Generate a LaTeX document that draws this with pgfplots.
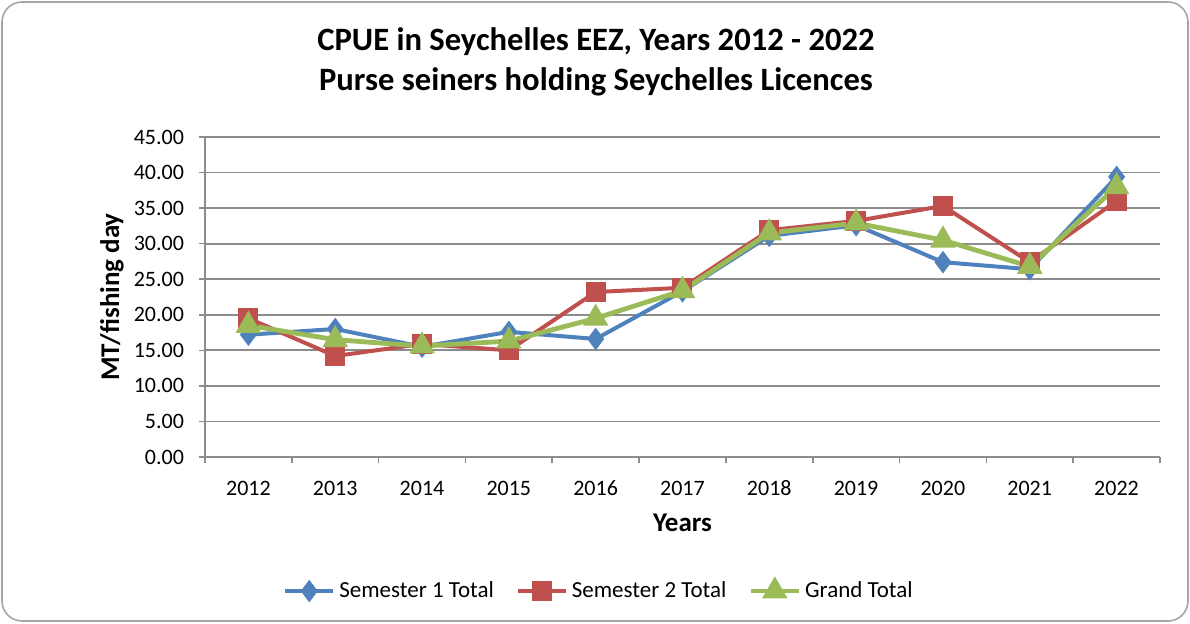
\documentclass[border=0pt]{standalone}
\usepackage{pgfplots}
\pgfplotsset{compat=1.18}
\usepackage{fontspec}
\setmainfont{Carlito}
\definecolor{sone}{HTML}{4F81BD}
\definecolor{stwo}{HTML}{C0504D}
\definecolor{gtot}{HTML}{9BBB59}
\definecolor{gridc}{HTML}{8C8C8C}

\begin{document}
\begin{tikzpicture}[x=1pt,y=1pt]
\useasboundingbox (-102.5,-83) rectangle (492.5,228.5);
\draw[gray!70, line width=0.8pt, rounded corners=10pt] (-101.5,-82) rectangle (491.5,227.5);
\node[font=\fontsize{16.3}{20}\selectfont\bfseries, align=center] at (195.5,197.5)
  {CPUE in Seychelles EEZ, Years 2012 - 2022\\Purse seiners holding Seychelles Licences};
\begin{axis}[
  at={(0,0)}, anchor=south west,
  scale only axis, width=477.5pt, height=160pt,
  xmin=2011.5, xmax=2022.5,
  ymin=0, ymax=45,
  xtick={2012,...,2022},
  major x tick style={draw=none},
  minor xtick={2011.5,2012.5,...,2022.5},
  ytick={0,5,...,45},
  yticklabel style={/pgf/number format/.cd, fixed, fixed zerofill, precision=2, /tikz/.cd, xshift=-4pt},
  xticklabel style={/pgf/number format/1000 sep={}, yshift=-5pt, text height=1.6ex, text depth=0.2ex},
  /pgf/number format/assume math mode=true,
  tick label style={font=\fontsize{11}{13}\selectfont},
  tick align=outside, tick pos=left,
  major tick length=3pt, minor tick length=3pt,
  every tick/.style={gridc, line width=0.8pt},
  axis x line*=bottom, axis y line*=left,
  axis line style={gridc, line width=0.9pt, -},
  ymajorgrids, grid style={gridc, line width=0.9pt},
  xlabel={Years}, ylabel={MT/fishing day},
  label style={font=\fontsize{13.5}{16}\selectfont\bfseries},
  xlabel style={at={(rel axis cs:0.5,0)}, anchor=center, yshift=-33pt},
  ylabel style={at={(rel axis cs:-0.0974,0.5)}, anchor=center},
  legend style={at={(0.4136,-0.419)}, anchor=center, draw=none, fill=none,
    legend columns=3, font=\fontsize{11.5}{14}\selectfont,
    /tikz/every even column/.append style={column sep=9pt}},
  legend image code/.code={
    \draw[#1, mark repeat=2, mark phase=2] plot coordinates {(0pt,0pt) (12pt,0pt) (24pt,0pt)};},
]
\addplot[sone, line width=2pt, mark=diamond*, mark size=4pt] coordinates {
  (2012,17.2) (2013,18.0) (2014,15.5) (2015,17.6) (2016,16.6) (2017,23.3)
  (2018,31.1) (2019,32.6) (2020,27.4) (2021,26.4) (2022,39.4)};
\addlegendentry{Semester 1 Total}
\addplot[stwo, line width=2pt, mark=square*, mark size=4pt] coordinates {
  (2012,19.5) (2013,14.2) (2014,15.9) (2015,15.0) (2016,23.2) (2017,23.8)
  (2018,31.9) (2019,33.2) (2020,35.3) (2021,27.4) (2022,36.0)};
\addlegendentry{Semester 2 Total}
\addplot[gtot, line width=2.4pt, mark=triangle*, mark size=5pt] coordinates {
  (2012,18.5) (2013,16.5) (2014,15.6) (2015,16.3) (2016,19.5) (2017,23.4)
  (2018,31.5) (2019,32.9) (2020,30.5) (2021,26.8) (2022,38.0)};
\addlegendentry{Grand Total}
\end{axis}
\end{tikzpicture}
\end{document}
